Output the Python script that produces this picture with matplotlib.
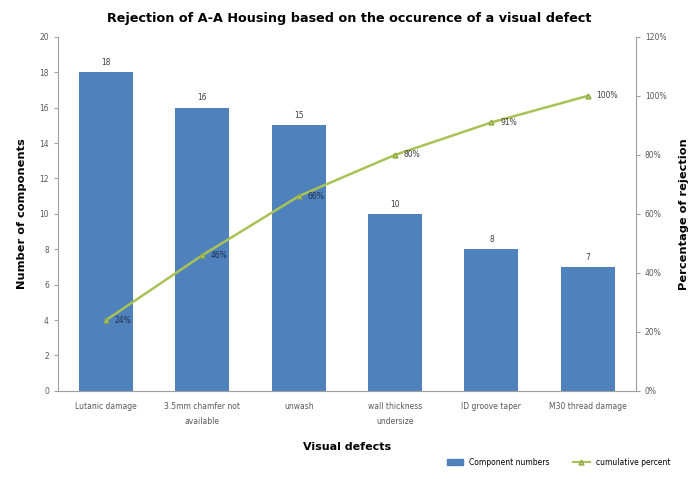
import numpy as np
import matplotlib.pyplot as plt
from matplotlib.lines import Line2D
from matplotlib.patches import Patch

defects = ["Lutanic damage", "3.5mm chamfer not\navailable", "unwash",
           "wall thickness\nundersize", "ID groove taper", "M30 thread damage"]
counts = [18, 16, 15, 10, 8, 7]
cum_pct = [24, 46, 66, 80, 91, 100]

bar_col = "#4F81BD"
line_col = "#A8C256"
tick_col = "#595959"

fig = plt.figure(figsize=(6.98, 4.79), dpi=100)
ax = fig.add_axes([0.083, 0.184, 0.828, 0.739])
x = np.arange(len(defects))

bars = ax.bar(x, counts, width=0.56, color=bar_col, zorder=2)
for xi, v in zip(x, counts):
    ax.text(xi, v + 0.3, str(v), ha="center", va="bottom", fontsize=5.5, color="#404040")

ax.set_xlim(-0.5, len(defects) - 0.5)
ax.set_ylim(0, 20)
ax.set_yticks(range(0, 21, 2))
ax.set_xticks(x)
ax.set_xticklabels(defects, fontsize=5.5, color=tick_col, linespacing=1.8)
ax.tick_params(axis="y", labelsize=5.5, colors=tick_col, length=3, color="#A0A0A0")
ax.tick_params(axis="x", length=0, pad=8)
ax.set_ylabel("Number of components", fontsize=8.2, fontweight="bold", labelpad=9)
ax.set_xlabel("Visual defects", fontsize=8, fontweight="bold", labelpad=12)
for s in ["top", "right"]:
    ax.spines[s].set_visible(False)
for s in ["left", "bottom"]:
    ax.spines[s].set_color("#A0A0A0")

ax2 = ax.twinx()
ax2.plot(x, cum_pct, color=line_col, lw=1.8, marker="^", ms=3.5,
         mfc="#C8DC78", mec="#8EA840", zorder=3)
for xi, p in zip(x, cum_pct):
    ax2.text(xi + 0.09, p, f"{p}%", ha="left", va="center", fontsize=5.5,
             color="#1F3050" if p < 70 else "#404040")
ax2.set_ylim(0, 120)
ax2.set_yticks(range(0, 121, 20))
ax2.set_yticklabels([f"{v}%" for v in range(0, 121, 20)])
ax2.tick_params(axis="y", labelsize=5.5, colors=tick_col, length=3, color="#A0A0A0")
ax2.set_ylabel("Percentage of rejection", fontsize=8.2, fontweight="bold", labelpad=9)
for s in ["top", "left", "bottom"]:
    ax2.spines[s].set_visible(False)
ax2.spines["right"].set_color("#A0A0A0")

fig.suptitle("Rejection of A-A Housing based on the occurence of a visual defect",
             fontsize=9.2, fontweight="bold", y=0.975)

handles = [Patch(color=bar_col),
           Line2D([0], [0], color=line_col, lw=1.5, marker="^", ms=3.5,
                  mfc="#C8DC78", mec="#8EA840")]
fig.legend(handles, ["Component numbers", "cumulative percent"], loc="center",
           bbox_to_anchor=(0.8, 0.035), ncol=2, frameon=False, fontsize=5.5,
           handlelength=2.2, columnspacing=3)

fig.savefig("out.png", dpi=100)
